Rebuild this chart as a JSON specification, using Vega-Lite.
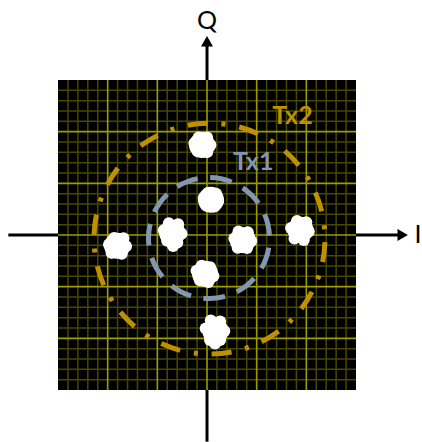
{
  "$schema": "https://vega.github.io/schema/vega-lite/v6.json",
  "width": 298,
  "height": 310,
  "autosize": {"type": "none"},
  "padding": {"left": 58, "top": 80, "right": 66, "bottom": 52},
  "background": "white",
  "config": {"view": {"fill": "black", "stroke": null}},
  "datasets": {
    "minor": [
      {"v": -2.8}, {"v": -2.6}, {"v": -2.4}, {"v": -2.2},
      {"v": -1.8}, {"v": -1.6}, {"v": -1.4}, {"v": -1.2},
      {"v": -0.8}, {"v": -0.6}, {"v": -0.4}, {"v": -0.2},
      {"v": 0.2}, {"v": 0.4}, {"v": 0.6}, {"v": 0.8},
      {"v": 1.2}, {"v": 1.4}, {"v": 1.6}, {"v": 1.8},
      {"v": 2.2}, {"v": 2.4}, {"v": 2.6}, {"v": 2.8}
    ],
    "major": [{"v": -2}, {"v": -1}, {"v": 0}, {"v": 1}, {"v": 2}],
    "axisLines": [
      {"x": -4.0, "x2": -3, "y": 0, "y2": 0},
      {"x": 3, "x2": 3.94, "y": 0, "y2": 0},
      {"x": 0, "x2": 0, "y": 3, "y2": 3.75},
      {"x": 0, "x2": 0, "y": -3, "y2": -4.0}
    ],
    "arrowHeads": [
      {"dir": "I", "x": 3.94, "y": 0},
      {"dir": "Q", "x": 0, "y": 3.75}
    ],
    "axisLabels": [
      {"text": "Q", "x": 0, "y": 4.14},
      {"text": "I", "x": 4.25, "y": 0}
    ],
    "rings": [
      {"ring": "Tx1", "x": 0.04, "y": -0.06},
      {"ring": "Tx2", "x": 0.05, "y": -0.07}
    ],
    "ringLabels": [
      {"ring": "Tx2", "x": 1.72, "y": 2.3},
      {"ring": "Tx1", "x": 0.93, "y": 1.41}
    ],
    "symbols": [
      {"c": 1, "part": "core", "x": -0.10, "y": 1.74},
      {"c": 1, "part": "lobe", "x": -0.253, "y": 1.774},
      {"c": 1, "part": "lobe", "x": -0.168, "y": 1.885},
      {"c": 1, "part": "lobe", "x": 0.002, "y": 1.885},
      {"c": 1, "part": "lobe", "x": 0.07, "y": 1.74},
      {"c": 1, "part": "lobe", "x": 0.002, "y": 1.604},
      {"c": 1, "part": "lobe", "x": -0.185, "y": 1.621},

      {"c": 2, "part": "core", "x": 0.08, "y": 0.68},
      {"c": 2, "part": "lobe", "x": -0.065, "y": 0.714},
      {"c": 2, "part": "lobe", "x": 0.029, "y": 0.816},
      {"c": 2, "part": "lobe", "x": 0.182, "y": 0.799},
      {"c": 2, "part": "lobe", "x": 0.225, "y": 0.663},
      {"c": 2, "part": "lobe", "x": 0.148, "y": 0.552},
      {"c": 2, "part": "lobe", "x": -0.014, "y": 0.57},

      {"c": 3, "part": "core", "x": -0.70, "y": 0.04},
      {"c": 3, "part": "lobe", "x": -0.87, "y": 0.091},
      {"c": 3, "part": "lobe", "x": -0.768, "y": 0.227},
      {"c": 3, "part": "lobe", "x": -0.581, "y": 0.21},
      {"c": 3, "part": "lobe", "x": -0.513, "y": 0.023},
      {"c": 3, "part": "lobe", "x": -0.598, "y": -0.147},
      {"c": 3, "part": "lobe", "x": -0.802, "y": -0.113},
      {"c": 3, "part": "lobe", "x": -0.683, "y": -0.215},

      {"c": 4, "part": "core", "x": 0.72, "y": -0.10},
      {"c": 4, "part": "lobe", "x": 0.55, "y": -0.066},
      {"c": 4, "part": "lobe", "x": 0.635, "y": 0.07},
      {"c": 4, "part": "lobe", "x": 0.822, "y": 0.053},
      {"c": 4, "part": "lobe", "x": 0.89, "y": -0.117},
      {"c": 4, "part": "lobe", "x": 0.805, "y": -0.253},
      {"c": 4, "part": "lobe", "x": 0.618, "y": -0.245},

      {"c": 5, "part": "core", "x": -0.04, "y": -0.75},
      {"c": 5, "part": "lobe", "x": -0.21, "y": -0.69},
      {"c": 5, "part": "lobe", "x": -0.108, "y": -0.597},
      {"c": 5, "part": "lobe", "x": 0.062, "y": -0.622},
      {"c": 5, "part": "lobe", "x": 0.13, "y": -0.793},
      {"c": 5, "part": "lobe", "x": 0.028, "y": -0.912},
      {"c": 5, "part": "lobe", "x": -0.142, "y": -0.878},

      {"c": 6, "part": "core", "x": -1.81, "y": -0.21},
      {"c": 6, "part": "lobe", "x": -1.972, "y": -0.184},
      {"c": 6, "part": "lobe", "x": -1.87, "y": -0.057},
      {"c": 6, "part": "lobe", "x": -1.682, "y": -0.065},
      {"c": 6, "part": "lobe", "x": -1.631, "y": -0.219},
      {"c": 6, "part": "lobe", "x": -1.716, "y": -0.363},
      {"c": 6, "part": "lobe", "x": -1.92, "y": -0.346},

      {"c": 7, "part": "core", "x": 1.88, "y": 0.10},
      {"c": 7, "part": "lobe", "x": 1.693, "y": 0.134},
      {"c": 7, "part": "lobe", "x": 1.812, "y": 0.27},
      {"c": 7, "part": "lobe", "x": 1.999, "y": 0.245},
      {"c": 7, "part": "lobe", "x": 2.05, "y": 0.066},
      {"c": 7, "part": "lobe", "x": 1.948, "y": -0.096},
      {"c": 7, "part": "lobe", "x": 1.761, "y": -0.07},

      {"c": 8, "part": "core", "x": 0.17, "y": -1.86},
      {"c": 8, "part": "lobe", "x": -0.026, "y": -1.809},
      {"c": 8, "part": "lobe", "x": 0.076, "y": -1.656},
      {"c": 8, "part": "lobe", "x": 0.264, "y": -1.673},
      {"c": 8, "part": "lobe", "x": 0.349, "y": -1.86},
      {"c": 8, "part": "lobe", "x": 0.264, "y": -2.03},
      {"c": 8, "part": "lobe", "x": 0.06, "y": -2.03},
      {"c": 8, "part": "lobe", "x": 0.161, "y": -2.098}
    ]
  },
  "layer": [
    {
      "data": {"name": "minor"},
      "mark": {"type": "rule", "color": "#474700", "strokeWidth": 1.5},
      "encoding": {
        "x": {"field": "v", "type": "quantitative", "scale": {"domain": [-3, 3], "nice": false, "zero": false}, "axis": null}
      }
    },
    {
      "data": {"name": "minor"},
      "mark": {"type": "rule", "color": "#474700", "strokeWidth": 1.5},
      "encoding": {
        "y": {"field": "v", "type": "quantitative", "scale": {"domain": [-3, 3], "nice": false, "zero": false}, "axis": null}
      }
    },
    {
      "data": {"name": "major"},
      "mark": {"type": "rule", "color": "#9C9C00", "strokeWidth": 1.6},
      "encoding": {
        "x": {"field": "v", "type": "quantitative", "scale": {"domain": [-3, 3], "nice": false, "zero": false}, "axis": null}
      }
    },
    {
      "data": {"name": "major"},
      "mark": {"type": "rule", "color": "#9C9C00", "strokeWidth": 1.6},
      "encoding": {
        "y": {"field": "v", "type": "quantitative", "scale": {"domain": [-3, 3], "nice": false, "zero": false}, "axis": null}
      }
    },
    {
      "data": {"name": "rings"},
      "transform": [{"filter": {"field": "ring", "equal": "Tx1"}}],
      "mark": {"type": "point", "shape": "circle", "filled": false, "strokeWidth": 5, "opacity": 1, "strokeDash": [22, 12.55], "strokeDashOffset": 25.05, "strokeCap": "butt"},
      "encoding": {
        "x": {"field": "x", "type": "quantitative", "scale": {"domain": [-3, 3], "nice": false, "zero": false}, "axis": null},
        "y": {"field": "y", "type": "quantitative", "scale": {"domain": [-3, 3], "nice": false, "zero": false}, "axis": null},
        "size": {"value": 14641},
        "color": {"field": "ring", "type": "nominal", "scale": {"domain": ["Tx1", "Tx2"], "range": ["#8497B0", "#BF9000"]}, "legend": null}
      }
    },
    {
      "data": {"name": "rings"},
      "transform": [{"filter": {"field": "ring", "equal": "Tx2"}}],
      "mark": {"type": "point", "shape": "circle", "filled": false, "strokeWidth": 5, "opacity": 1, "strokeDash": [20, 13.92, 4, 13.92], "strokeDashOffset": 48.3, "strokeCap": "butt"},
      "encoding": {
        "x": {"field": "x", "type": "quantitative", "scale": {"domain": [-3, 3], "nice": false, "zero": false}, "axis": null},
        "y": {"field": "y", "type": "quantitative", "scale": {"domain": [-3, 3], "nice": false, "zero": false}, "axis": null},
        "size": {"value": 53361},
        "color": {"field": "ring", "type": "nominal", "scale": {"domain": ["Tx1", "Tx2"], "range": ["#8497B0", "#BF9000"]}, "legend": null}
      }
    },
    {
      "data": {"name": "symbols"},
      "transform": [{"filter": {"field": "part", "equal": "core"}}],
      "mark": {"type": "point", "shape": "circle", "filled": true, "color": "white", "opacity": 1, "strokeWidth": 0},
      "encoding": {
        "x": {"field": "x", "type": "quantitative", "scale": {"domain": [-3, 3], "nice": false, "zero": false}, "axis": null},
        "y": {"field": "y", "type": "quantitative", "scale": {"domain": [-3, 3], "nice": false, "zero": false}, "axis": null},
        "size": {"value": 676}
      }
    },
    {
      "data": {"name": "symbols"},
      "transform": [{"filter": {"field": "part", "equal": "lobe"}}],
      "mark": {"type": "point", "shape": "circle", "filled": true, "color": "white", "opacity": 1, "strokeWidth": 0},
      "encoding": {
        "x": {"field": "x", "type": "quantitative", "scale": {"domain": [-3, 3], "nice": false, "zero": false}, "axis": null},
        "y": {"field": "y", "type": "quantitative", "scale": {"domain": [-3, 3], "nice": false, "zero": false}, "axis": null},
        "size": {"value": 144}
      }
    },
    {
      "data": {"name": "ringLabels"},
      "mark": {"type": "text", "font": "Lato", "fontSize": 25, "fontWeight": "bold", "align": "center", "baseline": "middle"},
      "encoding": {
        "x": {"field": "x", "type": "quantitative", "scale": {"domain": [-3, 3], "nice": false, "zero": false}, "axis": null},
        "y": {"field": "y", "type": "quantitative", "scale": {"domain": [-3, 3], "nice": false, "zero": false}, "axis": null},
        "text": {"field": "ring"},
        "color": {"field": "ring", "type": "nominal", "scale": {"domain": ["Tx1", "Tx2"], "range": ["#8497B0", "#BF9000"]}, "legend": null}
      }
    },
    {
      "data": {"name": "axisLines"},
      "mark": {"type": "rule", "color": "black", "strokeWidth": 3},
      "encoding": {
        "x": {"field": "x", "type": "quantitative", "scale": {"domain": [-3, 3], "nice": false, "zero": false}, "axis": null},
        "x2": {"field": "x2"},
        "y": {"field": "y", "type": "quantitative", "scale": {"domain": [-3, 3], "nice": false, "zero": false}, "axis": null},
        "y2": {"field": "y2"}
      }
    },
    {
      "data": {"name": "arrowHeads"},
      "mark": {"type": "point", "filled": true, "color": "black", "opacity": 1, "strokeWidth": 0, "size": 144},
      "encoding": {
        "x": {"field": "x", "type": "quantitative", "scale": {"domain": [-3, 3], "nice": false, "zero": false}, "axis": null},
        "y": {"field": "y", "type": "quantitative", "scale": {"domain": [-3, 3], "nice": false, "zero": false}, "axis": null},
        "shape": {"field": "dir", "type": "nominal", "scale": {"domain": ["I", "Q"], "range": ["triangle-right", "triangle-up"]}, "legend": null}
      }
    },
    {
      "data": {"name": "axisLabels"},
      "mark": {"type": "text", "font": "Lato", "fontSize": 25, "color": "black", "align": "center", "baseline": "middle"},
      "encoding": {
        "x": {"field": "x", "type": "quantitative", "scale": {"domain": [-3, 3], "nice": false, "zero": false}, "axis": null},
        "y": {"field": "y", "type": "quantitative", "scale": {"domain": [-3, 3], "nice": false, "zero": false}, "axis": null},
        "text": {"field": "text"}
      }
    }
  ]
}
